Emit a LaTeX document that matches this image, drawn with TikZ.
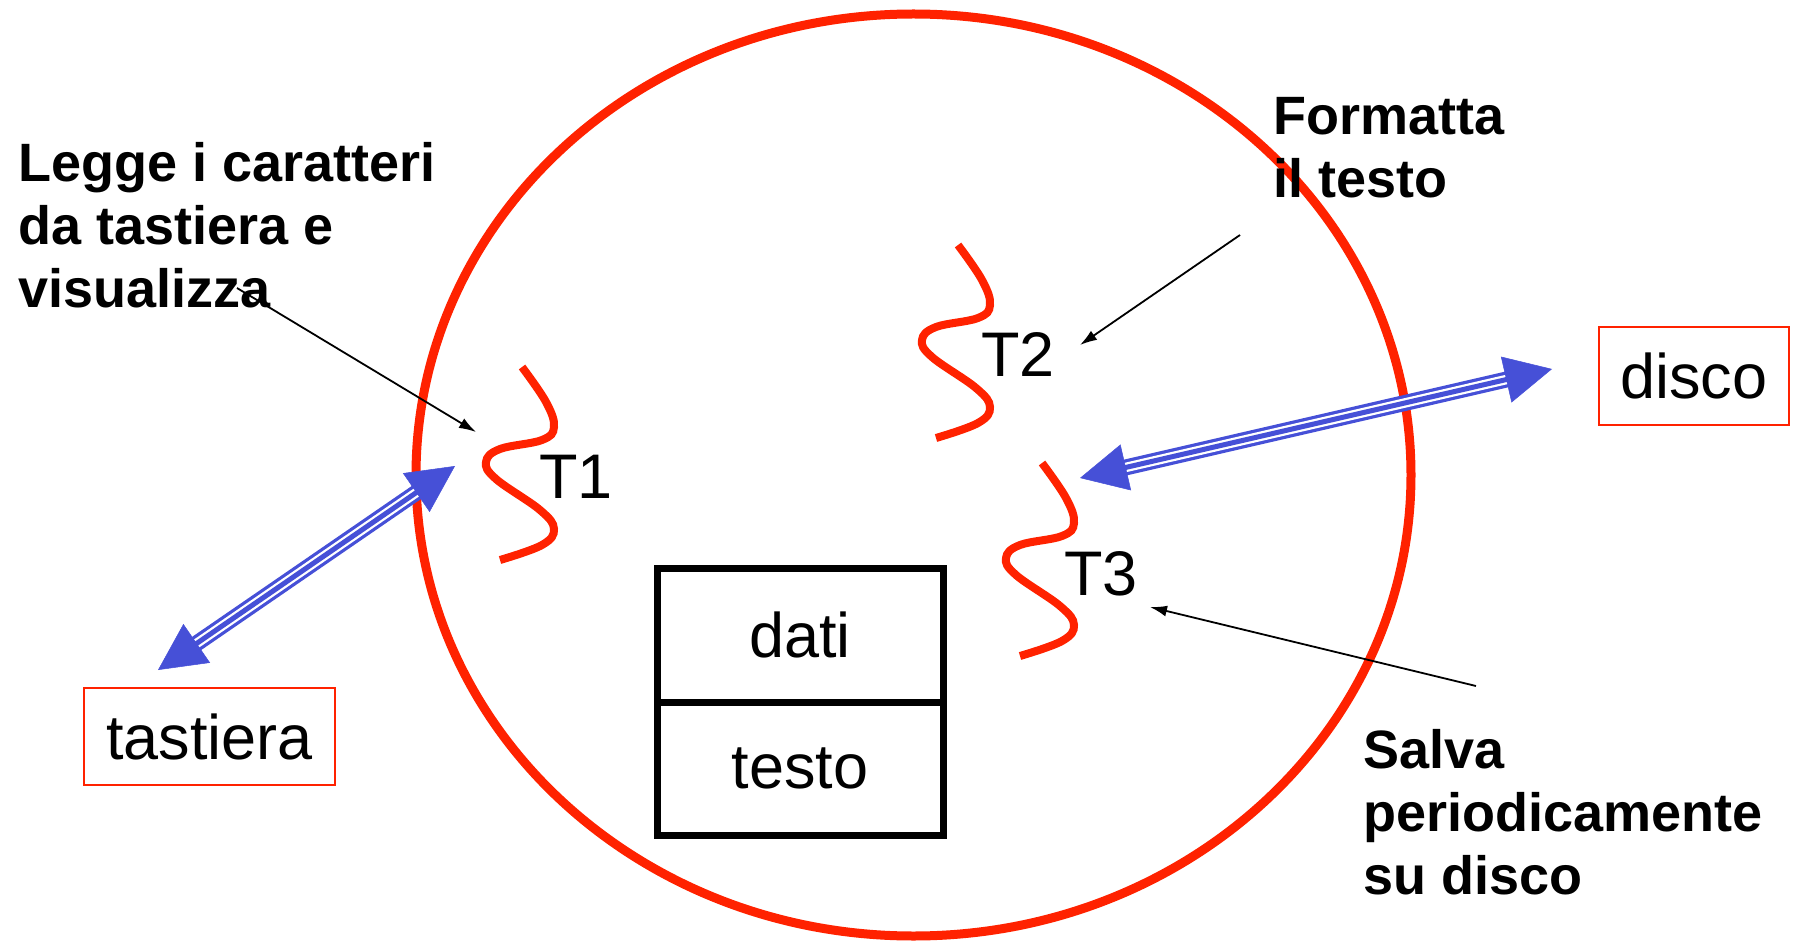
\documentclass[tikz,border=0pt]{standalone}
\usepackage{fontspec}
\setmainfont{Liberation Sans}
\usetikzlibrary{arrows.meta}
\definecolor{tred}{RGB}{255,34,0}
\definecolor{tblue}{RGB}{70,80,215}
\newcommand\biarrow[2]{%
  \draw[tblue, line width=16, shorten <=38pt, shorten >=38pt] (#1) -- (#2);
  \draw[white, line width=9.5, shorten <=38pt, shorten >=38pt] (#1) -- (#2);
  \draw[tblue, line width=5, shorten <=38pt, shorten >=38pt] (#1) -- (#2);
  \draw[tblue, line width=0.5, {Triangle[length=47pt,width=47pt]}-{Triangle[length=47pt,width=47pt]}] (#1) -- (#2);
}
\begin{document}
\begin{tikzpicture}[x=1pt,y=-1pt,
  reg/.style={font=\fontsize{63}{75}\selectfont, inner sep=0pt},
  boldtxt/.style={font=\fontsize{54}{63}\selectfont\bfseries, align=left, inner sep=0pt, anchor=north west},
  dev/.style={reg, draw=tred, line width=2.2pt},
  mem/.style={reg, draw=black, line width=7pt, minimum width=286pt},
  threadline/.style={tred, line width=8pt},
  note/.style={black, line width=1.8pt, -{Latex[length=17pt,width=11pt]}},
  thread/.pic={\draw[threadline] plot[smooth, tension=0.65] coordinates{(0,0) (24,35) (32,60) (20,73) (-22,82) (-36,95) (-26,112) (18,143) (32,162) (20,178) (-22,193)};}
]
\useasboundingbox (0,0) rectangle (1797,941);
% process boundary
\draw[tred, line width=9pt] (913.5,475) ellipse [x radius=497.5, y radius=461];
% threads
\pic (th1) at (522,367) {thread};
\pic (th2) at (958,245) {thread};
\pic (th3) at (1042,463) {thread};
\node[reg, anchor=base] (t1) at (576,498) {T1};
\node[reg, anchor=base] (t2) at (1018,377) {T2};
\node[reg, anchor=base] (t3) at (1101,595) {T3};
% memory
\node[mem, minimum height=134pt] (dati) at (800,635) {\raisebox{-3pt}{dati}};
\node[mem, minimum height=133pt] (testo) at (800,768.5) {testo};
% devices
\node[dev, minimum width=251pt, minimum height=97pt] (tast) at (209.5,736.5) {tastiera};
\node[dev, minimum width=190pt, minimum height=98pt] (disco) at (1694,376) {disco};
% descriptions
\node[boldtxt] (d1) at (18,137.2) {\strut Legge i caratteri\\da tastiera e\\visualizza};
\node[boldtxt] (d2) at (1273,90.2) {\strut Formatta\\il testo};
\node[boldtxt] (d3) at (1363,724.2) {\strut Salva\\periodicamente\\su disco};
% annotation arrows
\coordinate (a1s) at (237,288); \coordinate (a1e) at (476,432);
\coordinate (a2s) at (1240,235); \coordinate (a2e) at (1080,345);
\coordinate (a3s) at (1476,686); \coordinate (a3e) at (1150,607);
\draw[note] (a1s) -- (a1e);
\draw[note] (a2s) -- (a2e);
\draw[note] (a3s) -- (a3e);
% I/O arrows
\coordinate (k1) at (158,670); \coordinate (k2) at (455,466);
\coordinate (s1) at (1080,478); \coordinate (s2) at (1552,369);
\biarrow{k1}{k2}
\biarrow{s1}{s2}
\end{tikzpicture}
\end{document}
